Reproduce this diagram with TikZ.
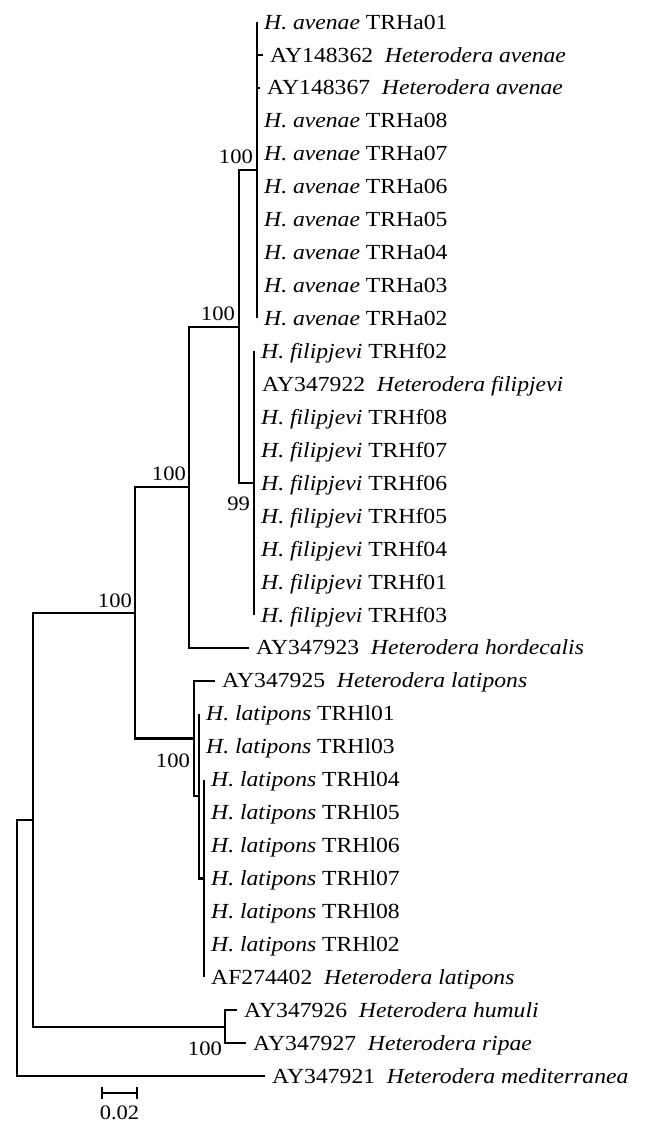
\documentclass[tikz,border=0pt]{standalone}
\usepackage{fontspec}
\setmainfont{Liberation Serif}[FakeStretch=1.1]
\begin{document}
\begin{tikzpicture}[x=1pt,y=-1pt,
  br/.style={line width=2.1pt, line join=miter},
  leaf/.style={anchor=west, inner xsep=7pt, inner ysep=0pt, font=\fontsize{21.5}{26}\selectfont, text height=14.2pt, text depth=0pt},
  bs/.style={anchor=base east, inner sep=0pt, font=\fontsize{20.5}{24}\selectfont}]
\useasboundingbox (0,0) rectangle (646,1123);
% internal nodes
\coordinate (Av) at (257,170.23);
\coordinate (Fi) at (254,483.16);
\coordinate (A) at (239,326.7);
\coordinate (B) at (189,487.28);
\coordinate (F) at (204,878.44);
\coordinate (E) at (199,796.09);
\coordinate (D) at (194,738.45);
\coordinate (C) at (135,612.87);
\coordinate (HR) at (225,1026.67);
\coordinate (G) at (33,819.77);
\coordinate (R) at (17,947.9);
% leaves
\node[leaf] (l0) at (257,22) {\textit{H. avenae} TRHa01};
\node[leaf] (l1) at (263,54.94) {AY148362\hspace{0.55em}\textit{Heterodera avenae}};
\node[leaf] (l2) at (260,87.88) {AY148367\hspace{0.55em}\textit{Heterodera avenae}};
\node[leaf] (l3) at (257,120.82) {\textit{H. avenae} TRHa08};
\node[leaf] (l4) at (257,153.76) {\textit{H. avenae} TRHa07};
\node[leaf] (l5) at (257,186.7) {\textit{H. avenae} TRHa06};
\node[leaf] (l6) at (257,219.64) {\textit{H. avenae} TRHa05};
\node[leaf] (l7) at (257,252.58) {\textit{H. avenae} TRHa04};
\node[leaf] (l8) at (257,285.52) {\textit{H. avenae} TRHa03};
\node[leaf] (l9) at (257,318.46) {\textit{H. avenae} TRHa02};
\node[leaf] (l10) at (254,351.4) {\textit{H. filipjevi} TRHf02};
\node[leaf] (l11) at (255,384.34) {AY347922\hspace{0.55em}\textit{Heterodera filipjevi}};
\node[leaf] (l12) at (254,417.28) {\textit{H. filipjevi} TRHf08};
\node[leaf] (l13) at (254,450.22) {\textit{H. filipjevi} TRHf07};
\node[leaf] (l14) at (254,483.16) {\textit{H. filipjevi} TRHf06};
\node[leaf] (l15) at (254,516.1) {\textit{H. filipjevi} TRHf05};
\node[leaf] (l16) at (254,549.04) {\textit{H. filipjevi} TRHf04};
\node[leaf] (l17) at (254,581.98) {\textit{H. filipjevi} TRHf01};
\node[leaf] (l18) at (254,614.92) {\textit{H. filipjevi} TRHf03};
\node[leaf] (l19) at (249,647.86) {AY347923\hspace{0.55em}\textit{Heterodera hordecalis}};
\node[leaf] (l20) at (215,680.8) {AY347925\hspace{0.55em}\textit{Heterodera latipons}};
\node[leaf] (l21) at (199,713.74) {\textit{H. latipons} TRHl01};
\node[leaf] (l22) at (199,746.68) {\textit{H. latipons} TRHl03};
\node[leaf] (l23) at (204,779.62) {\textit{H. latipons} TRHl04};
\node[leaf] (l24) at (204,812.56) {\textit{H. latipons} TRHl05};
\node[leaf] (l25) at (204,845.5) {\textit{H. latipons} TRHl06};
\node[leaf] (l26) at (204,878.44) {\textit{H. latipons} TRHl07};
\node[leaf] (l27) at (204,911.38) {\textit{H. latipons} TRHl08};
\node[leaf] (l28) at (204,944.32) {\textit{H. latipons} TRHl02};
\node[leaf] (l29) at (204,977.26) {AF274402\hspace{0.55em}\textit{Heterodera latipons}};
\node[leaf] (l30) at (237,1010.2) {AY347926\hspace{0.55em}\textit{Heterodera humuli}};
\node[leaf] (l31) at (246,1043.14) {AY347927\hspace{0.55em}\textit{Heterodera ripae}};
\node[leaf] (l32) at (265,1076.08) {AY347921\hspace{0.55em}\textit{Heterodera mediterranea}};
% branches
\foreach \i in {0,...,9} \draw[br] (Av) |- (l\i.west);
\foreach \i in {10,...,18} \draw[br] (Fi) |- (l\i.west);
\draw[br] (A) |- (Av);
\draw[br] (A) |- (Fi);
\draw[br] (B) |- (A);
\draw[br] (B) |- (l19.west);
\foreach \i in {23,...,29} \draw[br] (F) |- (l\i.west);
\draw[br] (E) |- (l21.west);
\draw[br] (E) |- (l22.west);
\draw[br] (E) |- (F);
\draw[br] (D) |- (l20.west);
\draw[br] (D) |- (E);
\draw[br] (C) |- (B);
\draw[br] (C) |- (D);
\draw[br] (HR) |- (l30.west);
\draw[br] (HR) |- (l31.west);
\draw[br] (G) |- (C);
\draw[br] (G) |- (HR);
\draw[br] (R) |- (G);
\draw[br] (R) |- (l32.west);
% bootstrap values
\node[bs] (b1) at (253,164) {100};
\node[bs] (b2) at (235,320) {100};
\node[bs] (b3) at (186,480) {100};
\node[bs] (b4) at (132,607) {100};
\node[bs] (b5) at (250,510) {99};
\node[bs] (b6) at (190,767) {100};
\node[bs] (b7) at (222,1055) {100};
% scale bar
\coordinate (s1) at (102,1093);
\coordinate (s2) at (137,1093);
\draw[br] (s1) -- (s2);
\draw[br] ([yshift=6pt]s1) -- ([yshift=-6pt]s1);
\draw[br] ([yshift=6pt]s2) -- ([yshift=-6pt]s2);
\node[font=\fontsize{20.5}{24}\selectfont, inner sep=0pt] (sl) at (119.5,1113) {0.02};
\end{tikzpicture}
\end{document}
